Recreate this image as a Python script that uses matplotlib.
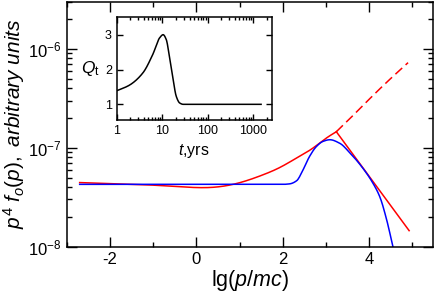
import numpy as np
import matplotlib
matplotlib.use("Agg")
import matplotlib.pyplot as plt
from matplotlib.ticker import LogLocator, MultipleLocator, NullFormatter, FuncFormatter

plt.rcParams['font.family'] = ['Liberation Sans', 'DejaVu Sans']
plt.rcParams['mathtext.fontset'] = 'custom'
plt.rcParams['mathtext.rm'] = 'Liberation Sans'
plt.rcParams['mathtext.it'] = 'Liberation Sans:italic'
plt.rcParams['mathtext.bf'] = 'Liberation Sans:bold'
plt.rcParams['axes.unicode_minus'] = False

# red curve (solid part): lg(p/mc) vs lg(p^4 f)
red_x = [-2.7, -2.0, -1.0, -0.38, 0.38, 0.85, 1.54, 1.93, 2.32, 2.70, 3.01, 3.24]
red_lg = [-7.352, -7.362, -7.378, -7.394, -7.400, -7.37, -7.274, -7.2, -7.104, -7.003, -6.902, -6.838]
# red dashed continuation
dash_x = [3.24, 3.6, 4.0, 4.45, 4.9]
dash_lg = [-6.838, -6.685, -6.51, -6.32, -6.14]
# red straight cut-off line
cut_x = [3.24, 4.925]
cut_lg = [-6.838, -7.838]
# blue curve
blue_x = [-2.7, -1.0, 1.0, 2.0, 2.16, 2.32, 2.47, 2.62, 2.78, 2.93, 3.09, 3.32,
          3.55, 3.86, 4.09, 4.25, 4.40, 4.55]
blue_lg = [-7.37, -7.37, -7.37, -7.37, -7.365, -7.334, -7.223, -7.088, -6.987,
           -6.936, -6.919, -6.955, -7.05, -7.21, -7.36, -7.50, -7.72, -8.0]

# inset: Q_t vs t (yrs)
q_t = [1, 1.9, 3.75, 6.2, 8.8, 10.5, 12.3, 14.6, 17.2, 20.4, 24.2, 29, 100, 1500]
q_val = [1.39, 1.55, 1.90, 2.43, 2.91, 3.0, 2.86, 2.33, 1.76, 1.23, 1.04, 1.0, 1.0, 1.0]


def pchip(x, y, n=400):
    x = np.asarray(x, float); y = np.asarray(y, float)
    xs = np.linspace(x[0], x[-1], n)
    h = np.diff(x); d = np.diff(y) / h
    m = np.zeros_like(y)
    m[0], m[-1] = d[0], d[-1]
    for i in range(1, len(y) - 1):
        if d[i-1] * d[i] <= 0:
            m[i] = 0
        else:
            w1 = 2*h[i] + h[i-1]; w2 = h[i] + 2*h[i-1]
            m[i] = (w1 + w2) / (w1/d[i-1] + w2/d[i])
    idx = np.clip(np.searchsorted(x, xs) - 1, 0, len(h) - 1)
    t = (xs - x[idx]) / h[idx]
    h00 = 2*t**3 - 3*t**2 + 1; h10 = t**3 - 2*t**2 + t
    h01 = -2*t**3 + 3*t**2; h11 = t**3 - t**2
    ys = h00*y[idx] + h10*h[idx]*m[idx] + h01*y[idx+1] + h11*h[idx]*m[idx+1]
    return xs, ys


def spline(x, y, n=400):
    # natural cubic spline
    x = np.asarray(x, float); y = np.asarray(y, float)
    k = len(x)
    h = np.diff(x)
    A = np.zeros((k, k)); b = np.zeros(k)
    A[0, 0] = A[-1, -1] = 1
    for i in range(1, k - 1):
        A[i, i-1] = h[i-1]; A[i, i] = 2*(h[i-1] + h[i]); A[i, i+1] = h[i]
        b[i] = 6*((y[i+1]-y[i])/h[i] - (y[i]-y[i-1])/h[i-1])
    M = np.linalg.solve(A, b)
    xs = np.linspace(x[0], x[-1], n)
    idx = np.clip(np.searchsorted(x, xs) - 1, 0, k - 2)
    x0 = x[idx]; x1 = x[idx+1]; hh = h[idx]
    ys = (M[idx]*(x1-xs)**3 + M[idx+1]*(xs-x0)**3)/(6*hh) \
        + (y[idx]/hh - M[idx]*hh/6)*(x1-xs) + (y[idx+1]/hh - M[idx+1]*hh/6)*(xs-x0)
    return xs, ys


def logfmt(v, pos):
    e = int(round(np.log10(v)))
    return r'10$^{%d}$' % e


fig = plt.figure(figsize=(4.36, 2.96), dpi=100)
ax = fig.add_axes([0.153, 0.1666, 0.8394, 0.828])

xs, ys = spline(red_x, red_lg)
ax.plot(xs, 10**ys, color='red', lw=1.1)
xs, ys = spline(dash_x, dash_lg)
ax.plot(xs, 10**ys, color='red', lw=1.1, dashes=(6, 3))
ax.plot(cut_x, 10**np.array(cut_lg), color='red', lw=1.1)
xs, ys = pchip(blue_x, blue_lg)
ax.plot(xs, 10**ys, color='blue', lw=1.1)

ax.set_yscale('log')
ax.set_xlim(-3.0, 5.47)
ax.set_ylim(1e-8, 3e-6)
ax.xaxis.set_major_locator(MultipleLocator(2))
ax.xaxis.set_minor_locator(MultipleLocator(1))
ax.yaxis.set_major_locator(LogLocator(base=10))
ax.yaxis.set_major_formatter(FuncFormatter(logfmt))
ax.yaxis.set_minor_locator(LogLocator(base=10, subs=np.arange(2, 10)))
ax.yaxis.set_minor_formatter(NullFormatter())
ax.tick_params(which='both', direction='in', top=True, right=True, width=1.0, labelsize=12)
ax.tick_params(which='major', length=7)
ax.tick_params(which='minor', length=3.5)
for s in ax.spines.values():
    s.set_linewidth(1.1)
ax.set_xlabel(r'lg($p/mc$)', fontsize=15.5, labelpad=1)
ax.set_ylabel(r'$p^4\ f_o(p),\ arbitrary\ units$', fontsize=15, labelpad=1)

# inset
ins = fig.add_axes([0.2677, 0.5946, 0.3555, 0.347])
xs, ys = pchip(np.log10(q_t), q_val)
ins.plot(10**xs, ys, color='black', lw=1.1)
ins.set_xscale('log')
ins.set_xlim(1, 2570)
ins.set_ylim(0.55, 3.5)
ins.yaxis.set_major_locator(MultipleLocator(1))
ins.xaxis.set_minor_locator(LogLocator(base=10, subs=np.arange(2, 10)))
ins.xaxis.set_minor_formatter(NullFormatter())
ins.set_xticks([1, 10, 100, 1000])
ins.set_xticklabels(['1', '10', '100', '1000'])
ins.tick_params(which='both', direction='in', top=True, right=True, width=1.0, labelsize=9)
ins.tick_params(which='major', length=4)
ins.tick_params(which='minor', length=2.5)
for s in ins.spines.values():
    s.set_linewidth(1.1)
ins.set_xlabel(r'$t$,yrs', fontsize=11.5, labelpad=4)
ins.set_ylabel(r'$Q_{\rm t}$', fontsize=12.5, rotation=0, ha='right', va='center', labelpad=4)

fig.savefig('out.png', dpi=100)
